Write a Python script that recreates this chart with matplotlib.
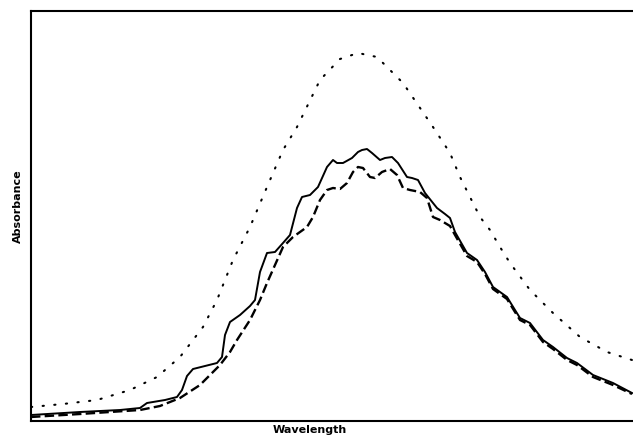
import matplotlib.pyplot as plt

# wavelength positions (arbitrary units) and absorbance readings for each trace
wl_solid = [0, 49, 89, 109, 116, 134, 146, 151, 156, 162, 174, 186, 191, 194, 199, 209, 219, 224,
            229, 236, 244, 252, 259, 266, 271, 279, 287, 296, 302, 306, 312, 321, 327, 331, 336,
            341, 349, 354, 361, 367, 376, 381, 387, 394, 406, 414, 419, 424, 436, 446, 454, 462,
            476, 484, 489, 499, 512, 522, 536, 546, 562, 582, 601]
ab_solid = [6, 9, 11, 13, 18, 21, 24, 31, 45, 52, 55, 58, 64, 86, 99, 106, 115, 121,
            149, 168, 169, 178, 186, 213, 224, 226, 234, 254, 261, 258, 258, 263, 269, 271, 272,
            268, 261, 263, 264, 258, 244, 243, 241, 228, 213, 207, 203, 189, 168, 161, 149, 134,
            124, 111, 103, 98, 81, 74, 63, 58, 46, 38, 28]

wl_dashed = [0, 49, 109, 129, 149, 169, 189, 199, 206, 219, 229, 236, 252, 262, 276, 282, 289,
             296, 302, 309, 316, 322, 327, 332, 339, 344, 351, 359, 366, 372, 379, 389, 396,
             402, 409, 419, 424, 436, 446, 454, 462, 476, 484, 489, 499, 512, 522, 536, 546,
             562, 582, 601]
ab_dashed = [4, 7, 11, 15, 23, 36, 56, 69, 81, 101, 121, 138, 174, 184, 194, 204, 221,
             231, 233, 232, 238, 249, 254, 253, 244, 243, 249, 252, 246, 233, 231, 229, 223,
             204, 201, 195, 186, 165, 159, 147, 132, 122, 109, 101, 96, 79, 72, 61, 56,
             44, 36, 27]

wl_dotted = [0, 32, 66, 99, 126, 149, 172, 186, 202, 219, 236, 252, 266, 289, 309, 327, 346,
             372, 402, 419, 429, 449, 459, 469, 479, 499, 522, 549, 576, 601]
ab_dotted = [14, 17, 21, 31, 44, 64, 94, 121, 161, 194, 234, 271, 294, 341, 362, 368, 364,
             338, 294, 268, 244, 204, 191, 174, 158, 131, 108, 84, 69, 61]

fig = plt.figure(figsize=(6.33, 4.46), dpi=100)
ax = fig.add_axes([31 / 633, 25 / 446, 602 / 633, 410 / 446])

ax.plot(wl_dotted, ab_dotted, color='black', linewidth=1.5, linestyle=(0, (0.6, 5.0)),
        dash_capstyle='round')
ax.plot(wl_solid, ab_solid, color='black', linewidth=1.4)
ax.plot(wl_dashed, ab_dashed, color='black', linewidth=1.7, linestyle=(0, (4, 1.8)))

ax.set_xlim(0, 602)
ax.set_ylim(0, 410)
ax.set_xticks([])
ax.set_yticks([])
for side in ['left', 'top', 'bottom']:
    ax.spines[side].set_linewidth(1.5)
ax.spines['right'].set_visible(False)

ax.set_xlabel("Wavelength", fontsize=8, fontweight='bold')
ax.xaxis.set_label_coords(279 / 602, -4 / 410)
ax.set_ylabel("Absorbance", fontsize=8, fontweight='bold')
ax.yaxis.set_label_coords(-8 / 602, 215 / 410)

fig.savefig("out.png", dpi=100)
